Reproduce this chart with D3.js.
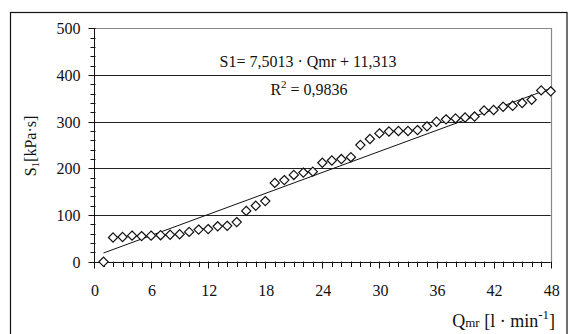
<!DOCTYPE html>
<meta charset="utf-8">
<head>
    <script type="text/javascript" src="https://cdn.jsdelivr.net/npm/d3@7/dist/d3.min.js"></script>
    <style>
        body {
            margin: 0;
            background: white;
        }
        text {
            font-family: "Liberation Serif", "Times New Roman", serif;
            fill: #111;
        }
        .grid {
            stroke: #222;
            stroke-width: 1;
        }
        .point {
            fill: white;
            stroke: #111;
            stroke-width: 1.2;
        }
    </style>
    <title>S1 vs Qmr</title>
</head>
<body>
    <div id="chart"></div>
    <script>
        // data
        var qmr = [1, 2, 3, 4, 5, 6, 7, 8, 9, 10, 11, 12, 13, 14, 15, 16, 17, 18, 19, 20, 21, 22, 23, 24,
                   25, 26, 27, 28, 29, 30, 31, 32, 33, 34, 35, 36, 37, 38, 39, 40, 41, 42, 43, 44, 45, 46, 47, 48];
        var s1 = [0, 52, 53, 56, 55, 56, 57, 58, 59, 64, 69, 70, 76, 77, 85, 109, 120, 130, 169, 175, 186, 191, 193, 212,
                  217, 220, 224, 250, 263, 275, 279, 280, 280, 282, 290, 300, 305, 307, 309, 311, 324, 325, 332, 334, 340, 347, 367, 365];
        var xTicks = [0, 6, 12, 18, 24, 30, 36, 42, 48];
        var yTicks = [0, 100, 200, 300, 400, 500];
        var slope = 7.5013;
        var intercept = 11.313;

        var w = 568;
        var h = 334;
        var margin = {left: 94, right: 17.3, top: 28.3, bottom: 72.2};

        var svg = d3.select("#chart")
                    .append("svg")
                    .attr("width", w)
                    .attr("height", h);

        // outer chart frame
        svg.append("rect")
            .attr("x", 10.5)
            .attr("y", 12.5)
            .attr("width", 556.5)
            .attr("height", 340)
            .attr("fill", "none")
            .attr("stroke", "#111")
            .attr("stroke-width", 1.2);

        var x = d3.scaleLinear().domain([0, 48]).range([margin.left, w - margin.right]);
        var y = d3.scaleLinear().domain([0, 500]).range([h - margin.bottom, margin.top]);

        // gridlines
        svg.append("g")
            .selectAll("line")
            .data(yTicks.filter(d => d > 0 && d < 500))
            .enter()
            .append("line")
            .attr("class", "grid")
            .attr("x1", x(0))
            .attr("x2", x(48))
            .attr("y1", d => Math.round(y(d)) + 0.5)
            .attr("y2", d => Math.round(y(d)) + 0.5);

        // plot area border (top + right, grey)
        svg.append("path")
            .attr("d", "M" + x(0) + "," + (Math.round(y(500)) + 0.5) + "H" + (Math.round(x(48)) + 0.5) + "V" + y(0))
            .attr("fill", "none")
            .attr("stroke", "#888")
            .attr("stroke-width", 1.2);

        // y axis
        var yAxis = svg.append("g").attr("transform", "translate(" + (Math.round(x(0)) + 0.5) + ",0)");
        yAxis.append("line").attr("y1", y(0)).attr("y2", y(500)).attr("stroke", "#111");
        yAxis.selectAll(".minor")
            .data(d3.range(0, 501, 20))
            .enter()
            .append("line")
            .attr("x1", d => d % 100 === 0 ? -6 : -4)
            .attr("x2", 1)
            .attr("y1", d => Math.round(y(d)) + 0.5)
            .attr("y2", d => Math.round(y(d)) + 0.5)
            .attr("stroke", "#111");
        yAxis.selectAll("text")
            .data(yTicks)
            .enter()
            .append("text")
            .attr("x", -14)
            .attr("y", d => y(d) + 6)
            .attr("text-anchor", "end")
            .style("font-size", "16px")
            .text(d => d);

        // x axis
        var xAxis = svg.append("g").attr("transform", "translate(0," + (Math.round(y(0)) + 0.5) + ")");
        xAxis.append("line").attr("x1", x(0)).attr("x2", x(48)).attr("stroke", "#111");
        xAxis.selectAll(".minor")
            .data(d3.range(0, 49, 1))
            .enter()
            .append("line")
            .attr("x1", d => Math.round(x(d)) + 0.5)
            .attr("x2", d => Math.round(x(d)) + 0.5)
            .attr("y1", -1)
            .attr("y2", d => d % 6 === 0 ? 6 : 4.5)
            .attr("stroke", "#111");
        xAxis.selectAll("text")
            .data(xTicks)
            .enter()
            .append("text")
            .attr("x", d => x(d) + 1)
            .attr("y", 33)
            .attr("text-anchor", "middle")
            .style("font-size", "16px")
            .text(d => d);

        // trend line
        svg.append("line")
            .attr("x1", x(qmr[0]))
            .attr("y1", y(slope * qmr[0] + intercept))
            .attr("x2", x(qmr[qmr.length - 1]))
            .attr("y2", y(slope * qmr[qmr.length - 1] + intercept))
            .attr("stroke", "#111")
            .attr("stroke-width", 1);

        // points as diamonds
        var r = 4.6;
        svg.append("g")
            .selectAll("path")
            .data(qmr.map((q, i) => [q, s1[i]]))
            .enter()
            .append("path")
            .attr("class", "point")
            .attr("d", d => {
                var px = x(d[0]), py = y(d[1]);
                return "M" + px + "," + (py - r) + "L" + (px + r) + "," + py + "L" + px + "," + (py + r) + "L" + (px - r) + "," + py + "Z";
            });

        // equation labels
        svg.append("text")
            .attr("x", 308)
            .attr("y", 67)
            .attr("text-anchor", "middle")
            .style("font-size", "16px")
            .text("S1= 7,5013 · Qmr + 11,313");

        var r2 = svg.append("text")
            .attr("x", 309)
            .attr("y", 95)
            .attr("text-anchor", "middle")
            .style("font-size", "16px");
        r2.append("tspan").text("R");
        r2.append("tspan").attr("dy", -7).style("font-size", "11px").text("2");
        r2.append("tspan").attr("dy", 7).text(" = 0,9836");

        // y axis title
        var yt = svg.append("text")
            .attr("transform", "translate(36,146) rotate(-90)")
            .attr("text-anchor", "middle")
            .style("font-size", "16px");
        yt.append("tspan").text("S");
        yt.append("tspan").attr("dy", 3).style("font-size", "11px").text("1");
        yt.append("tspan").attr("dy", -3).text("[kPa·s]");

        // x axis title
        var xt = svg.append("text")
            .attr("x", 555)
            .attr("y", 327)
            .attr("text-anchor", "end")
            .style("font-size", "18px");
        xt.append("tspan").text("Q");
        xt.append("tspan").style("font-size", "13px").text("mr");
        xt.append("tspan").text(" [l · min");
        xt.append("tspan").attr("dy", -8).style("font-size", "13px").text("-1");
        xt.append("tspan").attr("dy", 8).text("]");
    </script>
</body>
